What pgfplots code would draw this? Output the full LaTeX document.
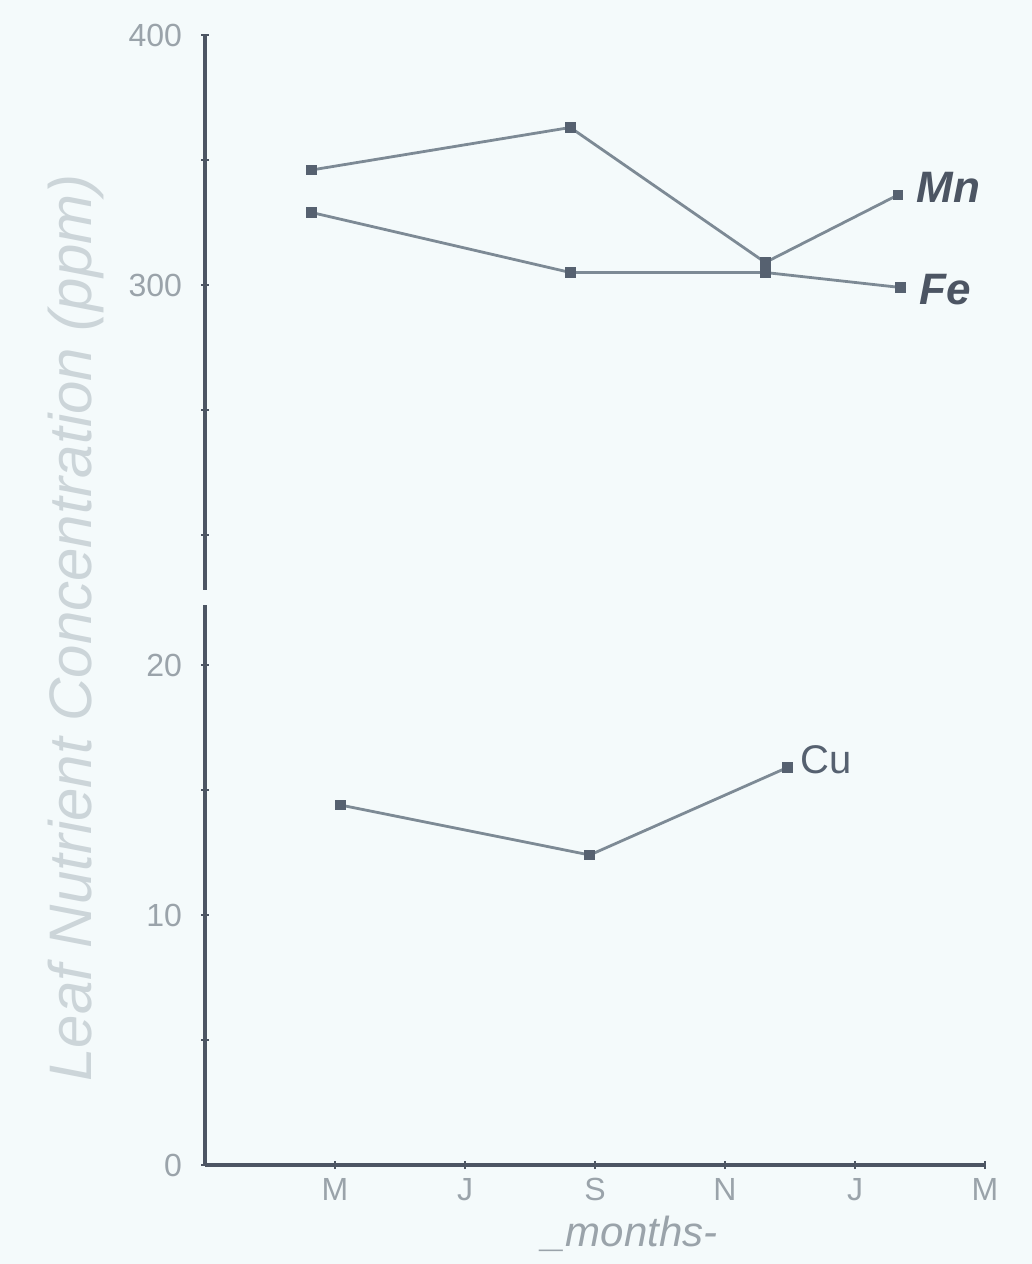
\documentclass[border=0pt]{standalone}
\usepackage{pgfplots}
\pgfplotsset{compat=1.18}
\usepackage{fontspec}
\setmainfont{Liberation Sans}
\definecolor{paper}{HTML}{F4FAFB}
\definecolor{axisc}{HTML}{4C5563}
\definecolor{linec}{HTML}{7D8A95}
\definecolor{markc}{HTML}{566170}
\definecolor{tickc}{HTML}{9AA3AA}
\definecolor{faint}{HTML}{CCD5D9}
\begin{document}
\begin{tikzpicture}
% page frame: 1px of the reference = 0.5pt
\fill[paper] (0,0) rectangle (516pt,632pt);
\useasboundingbox (0,0) rectangle (516pt,632pt);
\pgfplotsset{
  brk/.style={
    scale only axis, width=390pt, xmin=0, xmax=6,
    axis line style={axisc, line width=2.2pt},
    tick style={axisc, line width=1.2pt},
    tick align=outside, major tick length=4pt,
    every tick label/.append style={font=\fontsize{16}{18}\selectfont, text=tickc},
    /pgf/number format/assume math mode=true,
    clip=false,
  },
  ser/.style={linec, line width=1.4pt, mark=square*, mark size=2pt,
    mark options={fill=markc, draw=markc}},
}
% lower part: Cu
\begin{axis}[brk, at={(102.5pt,49.5pt)}, anchor=south west, height=280pt,
  ymin=0, ymax=22.4, axis x line=bottom, axis y line=left,
  x axis line style={-}, y axis line style={-},
  xtick={1,2,3,4,5,6}, xticklabels={M,J,S,N,J,M},
  xticklabel style={yshift=-1pt},
  ytick={0,5,10,15,20}, yticklabels={0,,10,,20},
  yticklabel style={xshift=-6pt}]
\addplot[ser] coordinates {(1.04,14.4) (2.96,12.4) (4.48,15.9)};
\node[right, xshift=3pt, text=markc, font=\fontsize{20}{22}\selectfont] at (axis cs:4.48,16.2) {Cu};
\end{axis}
% upper part: Mn and Fe
\begin{axis}[brk, at={(102.5pt,337pt)}, anchor=south west, height=277.5pt,
  ymin=178, ymax=400, axis x line=none, axis y line=left,
  y axis line style={-},
  ytick={200,250,300,350,400}, yticklabels={,,300,,400},
  yticklabel style={xshift=-6pt}]
\addplot[ser] coordinates {(0.82,346) (2.81,363) (4.31,309) (5.33,336)};
\addplot[ser] coordinates {(0.82,329) (2.81,305) (4.31,305) (5.35,299)};
\node[right, xshift=4pt, text=axisc, font=\bfseries\itshape\fontsize{22}{24}\selectfont] at (axis cs:5.36,339) {Mn};
\node[right, xshift=4pt, text=axisc, font=\bfseries\itshape\fontsize{22}{24}\selectfont] at (axis cs:5.38,298) {Fe};
\end{axis}
% axis titles
\node[rotate=90, text=faint, font=\itshape\fontsize{30}{33}\selectfont] at (38pt,318pt) {Leaf Nutrient Concentration (ppm)};
\node[text=tickc, font=\itshape\fontsize{21}{23}\selectfont] at (315pt,15pt) {\_months-};
\end{tikzpicture}
\end{document}
